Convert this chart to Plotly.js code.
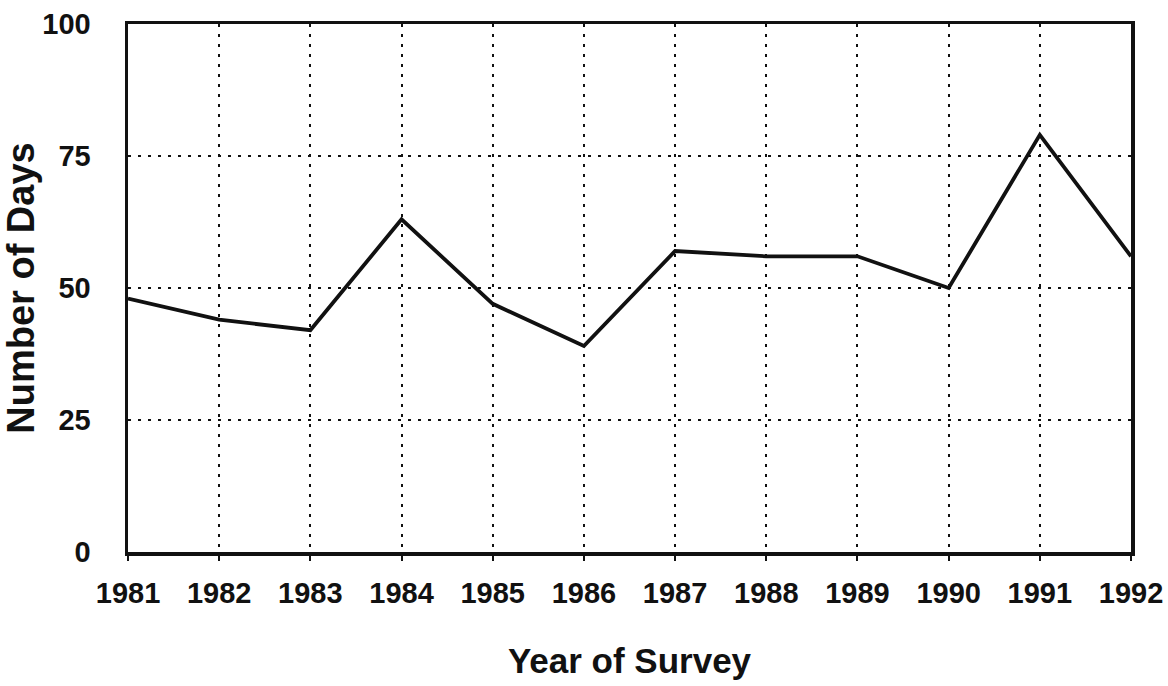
<!DOCTYPE html>
<html>
<head>
<meta charset="utf-8">
<script src="https://cdn.plot.ly/plotly-3.0.1.min.js"></script>
<style>html,body{margin:0;padding:0;background:#fff;}#chart{width:1168px;height:686px;}</style>
</head>
<body>
<div id="chart"></div>
<script>
const years = [1981, 1982, 1983, 1984, 1985, 1986, 1987, 1988, 1989, 1990, 1991, 1992];
const numberOfDays = [48, 44, 42, 63, 47, 39, 57, 56, 56, 50, 79, 56];
const yTickValues = [0, 25, 50, 75, 100];
const xTitle = 'Year of Survey';
const yTitle = 'Number of Days';

const font = 'Liberation Sans, Arial, Helvetica, sans-serif';

const trace = {
  x: years,
  y: numberOfDays,
  type: 'scatter',
  mode: 'lines',
  line: {color: '#111', width: 3.8},
  hoverinfo: 'skip'
};

const layout = {
  width: 1168,
  height: 686,
  paper_bgcolor: '#fff',
  plot_bgcolor: '#fff',
  showlegend: false,
  margin: {l: 128, r: 37, t: 24, b: 134},
  font: {family: font, color: '#111'},
  xaxis: {
    range: [years[0], years[years.length - 1]],
    tickvals: years,
    ticktext: years.map(String),
    tickfont: {family: font, size: 29, color: '#111', weight: 'bold'},
    ticks: 'outside',
    ticklen: 5,
    tickwidth: 2,
    tickcolor: '#111',
    ticklabelstandoff: 8,
    showgrid: true,
    gridcolor: '#111',
    gridwidth: 2,
    griddash: '3px,7px',
    zeroline: false,
    showline: true,
    linecolor: '#111',
    linewidth: 3.5,
    mirror: true,
    fixedrange: true,
    automargin: false,
    title: {text: xTitle, font: {family: font, size: 35, color: '#111', weight: 'bold'}, standoff: 41}
  },
  yaxis: {
    range: [0, 100],
    tickvals: yTickValues,
    ticktext: yTickValues.map(String),
    tickfont: {family: font, size: 29, color: '#111', weight: 'bold'},
    ticks: '',
    ticklabelstandoff: 28,
    showgrid: true,
    gridcolor: '#111',
    gridwidth: 2,
    griddash: '3px,7px',
    zeroline: false,
    showline: true,
    linecolor: '#111',
    linewidth: 3.5,
    mirror: true,
    fixedrange: true,
    automargin: false,
    title: {text: yTitle, font: {family: font, size: 38, color: '#111', weight: 'bold'}, standoff: 4}
  }
};

Plotly.newPlot('chart', [trace], layout, {displayModeBar: false, staticPlot: true});
</script>
</body>
</html>
